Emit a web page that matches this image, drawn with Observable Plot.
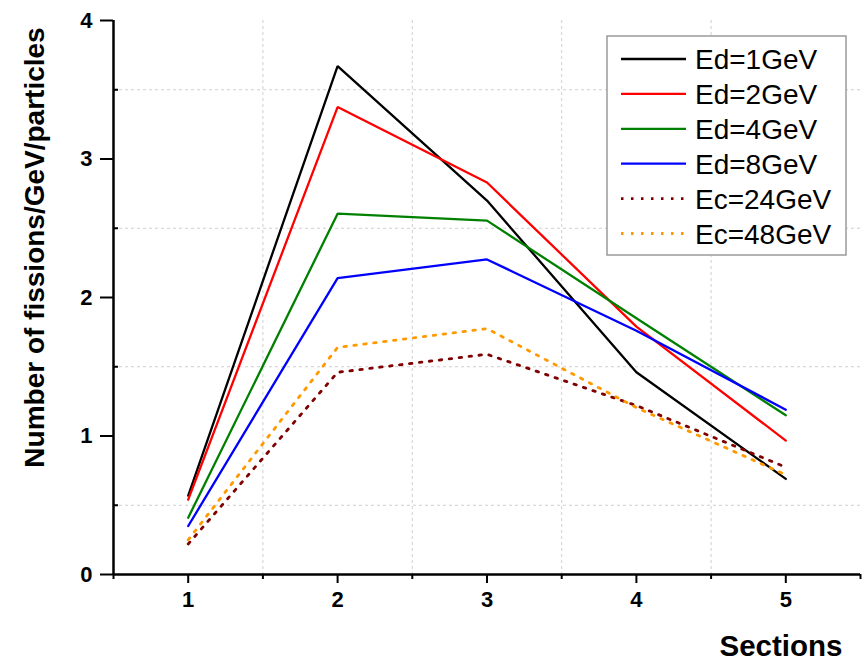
<!DOCTYPE html>
<html>
<head>
<meta charset="utf-8">
<script src="https://cdn.jsdelivr.net/npm/d3@7"></script>
<script src="https://cdn.jsdelivr.net/npm/@observablehq/plot@0.6"></script>
<style>
  html, body { margin: 0; padding: 0; background: white; }
  #wrap { position: relative; width: 868px; height: 661px; }
</style>
</head>
<body>
<div id="wrap"></div>
<script>
const sections = [1, 2, 3, 4, 5];
const seriesNames = ["Ed=1GeV", "Ed=2GeV", "Ed=4GeV", "Ed=8GeV", "Ec=24GeV", "Ec=48GeV"];
const ed1  = [0.57, 3.67, 2.70, 1.46, 0.69];
const ed2  = [0.54, 3.375, 2.83, 1.79, 0.967];
const ed4  = [0.41, 2.605, 2.555, 1.85, 1.15];
const ed8  = [0.35, 2.14, 2.275, 1.76, 1.19];
const ec24 = [0.22, 1.46, 1.59, 1.22, 0.775];
const ec48 = [0.25, 1.64, 1.775, 1.205, 0.72];
const seriesColors = ["#000000", "#ff0000", "#008000", "#0000ff", "#800000", "#ff9900"];
const seriesDotted = [false, false, false, false, true, true];
const xMajor = [1, 2, 3, 4, 5];
const xMinor = [0.5, 1.5, 2.5, 3.5, 4.5, 5.5];
const yMajor = [0, 1, 2, 3, 4];
const yMinor = [0.5, 1.5, 2.5, 3.5];
const xLabel = "Sections";
const yLabel = "Number of fissions/GeV/particles";

const allValues = [ed1, ed2, ed4, ed8, ec24, ec48];
const rows = [];
allValues.forEach((vals, si) => {
  vals.forEach((v, i) => rows.push({series: seriesNames[si], section: sections[i], value: v}));
});

const W = 868, H = 661, mL = 113, mR = 8, mT = 20, mB = 87;
const font = "'Liberation Sans', Arial, sans-serif";

const lineMarks = seriesNames.map((name, si) =>
  Plot.line(rows.filter(r => r.series === name), {
    x: "section", y: "value",
    stroke: seriesColors[si],
    strokeWidth: seriesDotted[si] ? 2.8 : 2.3,
    strokeDasharray: seriesDotted[si] ? "2.5,7.5" : null,
    strokeLinejoin: "miter"
  })
);

const chart = Plot.plot({
  width: W, height: H,
  marginLeft: mL, marginRight: mR, marginTop: mT, marginBottom: mB,
  style: {fontFamily: font, background: "white", color: "black"},
  x: {domain: [0.5, 5.5]},
  y: {domain: [0, 4]},
  marks: [
    Plot.gridX(xMinor.slice(1, -1), {stroke: "#cfcfcf", strokeOpacity: 1, strokeWidth: 1, strokeDasharray: "3,3"}),
    Plot.gridY(yMinor, {stroke: "#cfcfcf", strokeOpacity: 1, strokeWidth: 1, strokeDasharray: "3,3"}),
    ...lineMarks,
    Plot.axisX(xMajor, {tickSize: 9, text: null, strokeWidth: 2, label: null}),
    Plot.axisX(xMinor, {tickSize: 5, text: null, strokeWidth: 2, label: null}),
    Plot.axisY(yMajor, {tickSize: 13, text: null, strokeWidth: 2, label: null}),
    Plot.text(xMajor, {x: d => d, frameAnchor: "bottom", lineAnchor: "top", dy: 17, fontSize: 22, fontWeight: "bold", text: d => String(d)}),
    Plot.text(yMajor, {y: d => d, frameAnchor: "left", textAnchor: "end", lineAnchor: "middle", dx: -21, fontSize: 22, fontWeight: "bold", text: d => String(d)}),
    Plot.tickY(yMinor, {y: d => d, insetRight: (W - mL - mR) - 5, stroke: "black", strokeWidth: 2}),
    Plot.ruleX([0.5], {strokeWidth: 2.5}),
    Plot.ruleY([0], {strokeWidth: 2.5}),
    Plot.text([yLabel], {frameAnchor: "left", textAnchor: "middle", lineAnchor: "middle", rotate: -90, dx: -78, dy: -50, fontSize: 28, fontWeight: "bold", text: d => d}),
    Plot.text([xLabel], {frameAnchor: "bottom-right", textAnchor: "end", lineAnchor: "bottom", dx: -18, dy: 81, fontSize: 29.5, fontWeight: "bold", text: d => d})
  ]
});

const wrap = document.getElementById("wrap");
wrap.appendChild(chart);

// Legend
const lg = d3.create("svg").attr("width", W).attr("height", H)
  .style("position", "absolute").style("left", "0px").style("top", "0px").style("pointer-events", "none");
lg.append("rect").attr("x", 607).attr("y", 36).attr("width", 239).attr("height", 219)
  .attr("fill", "white").attr("stroke", "#9a9a9a").attr("stroke-width", 1.5);
seriesNames.forEach((name, i) => {
  const cy = 59 + i * 34.9;
  lg.append("line").attr("x1", 621).attr("x2", 686).attr("y1", cy).attr("y2", cy)
    .attr("stroke", seriesColors[i])
    .attr("stroke-width", seriesDotted[i] ? 2.8 : 2.3)
    .attr("stroke-dasharray", seriesDotted[i] ? "2.5,7.5" : null);
  lg.append("text").attr("x", 695).attr("y", cy + 10)
    .attr("font-family", font).attr("font-size", 28).attr("fill", "black").text(name);
});
wrap.appendChild(lg.node());
</script>
</body>
</html>
